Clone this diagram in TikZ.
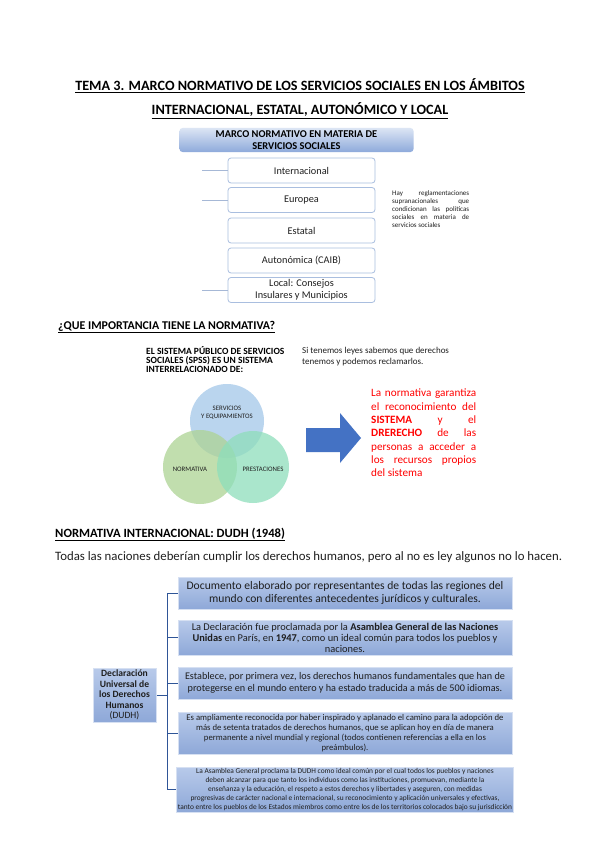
\documentclass[tikz,border=0pt]{standalone}
\usepackage{fontspec}
\setmainfont{Carlito}
\usetikzlibrary{positioning}
\definecolor{hdrtop}{HTML}{DCE5F4}
\definecolor{hdrbot}{HTML}{8EAADB}
\definecolor{boxline}{HTML}{A9BEDF}
\definecolor{conlight}{HTML}{A6B8D6}
\definecolor{condark}{HTML}{2F5597}
\definecolor{arrowblue}{HTML}{4472C4}
\definecolor{txt}{HTML}{1F1F1F}
\definecolor{vennblue}{HTML}{A3C7E9}
\definecolor{venngreen}{HTML}{ADD394}
\definecolor{venntea}{HTML}{8EDEBB}
\definecolor{dtop}{HTML}{B8CAEA}
\definecolor{dbot}{HTML}{8EA8D8}
\definecolor{dedge}{HTML}{D6E0F2}
\tikzset{
  heading/.style={font=\bfseries, text=black, inner sep=0pt},
  levelbox/.style={draw=boxline, line width=0.8pt, fill=white, rounded corners=3pt,
    minimum width=147pt, minimum height=25pt, inner sep=1pt, align=center,
    font=\fontsize{10.3}{12}\selectfont, text=txt},
  lvline/.style={draw=conlight, line width=0.8pt},
  dudhbox/.style={top color=dtop, bottom color=dbot, draw=dedge, line width=1pt,
    minimum width=334pt, align=center, inner sep=1pt, text=txt},
  dconn/.style={draw=condark, line width=0.9pt},
  vlabel/.style={font=\fontsize{6.8}{8.5}\selectfont, text=txt, align=center, inner sep=0pt}
}
\begin{document}
\begin{tikzpicture}[x=1pt,y=-1pt]
\useasboundingbox (0,0) rectangle (599,848);
\fill[white] (0,0) rectangle (599,848);

% Title
\node[heading, anchor=base, font=\fontsize{14.2}{16}\selectfont\bfseries] (t1) at (300,91)
  {\underline{TEMA 3. MARCO NORMATIVO DE LOS SERVICIOS SOCIALES EN LOS ÁMBITOS}};
\node[heading, anchor=base, font=\fontsize{14.2}{16}\selectfont\bfseries] (t2) at (300,115)
  {\underline{INTERNACIONAL, ESTATAL, AUTONÓMICO Y LOCAL}};

% Marco normativo
\node[top color=hdrtop, bottom color=hdrbot, rounded corners=3pt, minimum width=234pt,
  minimum height=24pt, inner sep=0pt, align=center,
  font=\fontsize{10.4}{12}\selectfont\bfseries] (hdr) at (296.5,140)
  {MARCO NORMATIVO EN MATERIA DE\\SERVICIOS SOCIALES};
\node[levelbox] (int) at (301.5,170.5) {Internacional};
\node[levelbox] (eur) at (301.5,200) {Europea};
\node[levelbox] (est) at (301.5,230.5) {Estatal};
\node[levelbox] (aut) at (301.5,260.5) {Autonómica (CAIB)};
\node[levelbox] (loc) at (301.5,290) {Local: Consejos\\Insulares y Municipios};
\coordinate (c1) at (202,170.5);
\coordinate (c2) at (202,200);
\coordinate (c5) at (202,290);
\draw[lvline] (c1) -- (int.west);
\draw[lvline] (c2) -- (eur.west);
\draw[lvline] (c5) -- (loc.west);
\node[anchor=north west, text width=77pt, align=justify, inner sep=0pt,
  font=\fontsize{7}{8.2}\selectfont, text=txt] (note) at (392,190)
  {Hay reglamentaciones\linebreak supranacionales que\linebreak condicionan las políticas\linebreak sociales en materia de\linebreak servicios sociales};

% Importancia
\node[heading, anchor=base west, font=\fontsize{11.9}{13}\selectfont\bfseries] (imp) at (58,329)
  {\underline{¿QUE IMPORTANCIA TIENE LA NORMATIVA?}};
\node[anchor=north west, align=left, inner sep=0pt,
  font=\fontsize{9.5}{9.2}\selectfont\bfseries] (spss) at (146,346)
  {EL SISTEMA PÚBLICO DE SERVICIOS\\SOCIALES (SPSS) ES UN SISTEMA\\INTERRELACIONADO DE:};
\node[anchor=north west, align=left, inner sep=0pt,
  font=\fontsize{9}{11}\selectfont, text=txt] (leyes) at (302,347)
  {Si tenemos leyes sabemos que derechos\\tenemos y podemos reclamarlos.};

% Venn
\begin{scope}[fill opacity=0.75]
\fill[vennblue] (227,421) circle (37);
\fill[venngreen] (200,467) circle (37);
\fill[venntea] (253,467) circle (36);
\end{scope}
\node[vlabel] (serv) at (227,412.5) {SERVICIOS\\Y EQUIPAMIENTOS};
\node[vlabel] (norm) at (190,469) {NORMATIVA};
\node[vlabel] (prest) at (263,469) {PRESTACIONES};

% Arrow
\fill[arrowblue] (306,428) -- (340,428) -- (340,413) -- (361,438) -- (340,463) -- (340,452) -- (306,452) -- cycle;

\node[anchor=north west, text width=105pt, align=justify, inner sep=0pt,
  font=\fontsize{11.2}{13.3}\selectfont, text=red] (garant) at (371,389)
  {La normativa garantiza\linebreak el reconocimiento del\linebreak \textbf{SISTEMA} y el\linebreak \textbf{DRERECHO} de las\linebreak personas a acceder a\linebreak los recursos propios\linebreak del sistema};

% DUDH
\node[heading, anchor=base west, font=\fontsize{12.6}{14}\selectfont\bfseries] (dudhh) at (55,537)
  {\underline{NORMATIVA INTERNACIONAL: DUDH (1948)}};
\node[anchor=base west, inner sep=0pt, font=\fontsize{12.8}{14}\selectfont, text=txt] (todas) at (55,560)
  {Todas las naciones deberían cumplir los derechos humanos, pero al no es ley algunos no lo hacen.};

\node[top color=dtop, bottom color=dbot, draw=dedge, line width=1pt, minimum width=63pt,
  minimum height=54pt, inner sep=0pt, align=center, text=txt,
  font=\fontsize{9.6}{10.5}\selectfont] (dl) at (124.5,695)
  {\textbf{Declaración}\\\textbf{Universal de}\\\textbf{los Derechos}\\\textbf{Humanos}\\(DUDH)};

\node[dudhbox, minimum height=32pt, font=\fontsize{11.6}{13}\selectfont] (b1) at (345,593)
  {Documento elaborado por representantes de todas las regiones del\\mundo con diferentes antecedentes jurídicos y culturales.};
\node[dudhbox, minimum height=35pt, font=\fontsize{10.4}{11}\selectfont] (b2) at (345,637.5)
  {La Declaración fue proclamada por la \textbf{Asamblea General de las Naciones}\\\textbf{Unidas} en París, en \textbf{1947}, como un ideal común para todos los pueblos y\\naciones.};
\node[dudhbox, minimum height=32pt, font=\fontsize{10.2}{12}\selectfont] (b3) at (345,683)
  {Establece, por primera vez, los derechos humanos fundamentales que han de\\protegerse en el mundo entero y ha estado traducida a más de 500 idiomas.};
\node[dudhbox, minimum height=42pt, font=\fontsize{8.7}{10}\selectfont] (b4) at (345,733)
  {Es ampliamente reconocida por haber inspirado y aplanado el camino para la adopción de\\más de setenta tratados de derechos humanos, que se aplican hoy en día de manera\\permanente a nivel mundial y regional (todos contienen referencias a ella en los\\preámbulos).};
\node[dudhbox, minimum height=45pt, font=\fontsize{7.4}{8.8}\selectfont] (b5) at (345,789.5)
  {La Asamblea General proclama la DUDH como ideal común por el cual todos los pueblos y naciones\\deben alcanzar para que tanto los individuos como las instituciones, promuevan, mediante la\\enseñanza y la educación, el respeto a estos derechos y libertades y aseguren, con medidas\\progresivas de carácter nacional e internacional, su reconocimiento y aplicación universales y efectivas,\\tanto entre los pueblos de los Estados miembros como entre los de los territorios colocados bajo su jurisdicción};

\coordinate (j) at (167,695);
\draw[dconn] (dl.east) -- (j);
\draw[dconn] (j |- b1.west) -- (j |- b5.west);
\draw[dconn] (j |- b1.west) -- (b1.west);
\draw[dconn] (j |- b2.west) -- (b2.west);
\draw[dconn] (j |- b3.west) -- (b3.west);
\draw[dconn] (j |- b4.west) -- (b4.west);
\draw[dconn] (j |- b5.west) -- (b5.west);
\end{tikzpicture}
\end{document}
